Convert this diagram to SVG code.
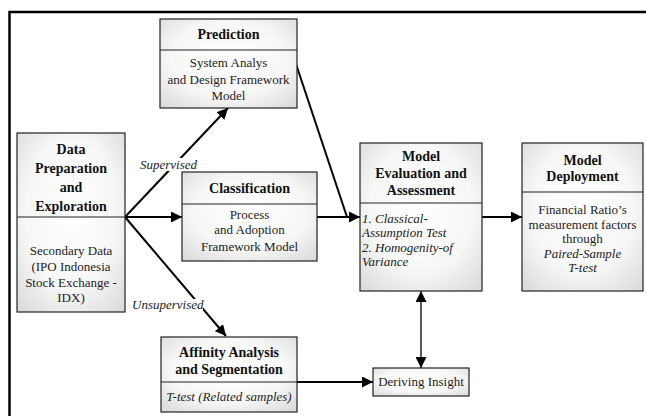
<svg xmlns="http://www.w3.org/2000/svg" width="646" height="416" viewBox="0 0 646 416">
<style>
.box{fill:url(#g);stroke:#222;stroke-width:1.2}
.div{stroke:#222;stroke-width:1.2}
.h{font-family:"Liberation Serif","Times New Roman",serif;font-weight:bold;font-size:14px;text-anchor:middle;fill:#111}
.b{font-family:"Liberation Serif","Times New Roman",serif;font-size:13px;text-anchor:middle;fill:#222}
.i{font-style:italic}
.l{text-anchor:start}
.c{stroke:#000;stroke-width:2;fill:none}
.bg{fill:#fff}
</style>
<defs>
<radialGradient id="g" cx="50%" cy="45%" r="70%">
<stop offset="0" stop-color="#ffffff"/>
<stop offset="0.6" stop-color="#f7f7f7"/>
<stop offset="1" stop-color="#dcdcdc"/>
</radialGradient>
<marker id="a" viewBox="0 0 10 10" refX="10" refY="5" markerWidth="11" markerHeight="11" markerUnits="userSpaceOnUse" orient="auto-start-reverse">
<path d="M0,0 L10,5 L0,10 z" fill="#000"/>
</marker>
</defs>
<rect x="0" y="0" width="646" height="416" fill="#fff"/>
<path d="M9.5,416 V12 H646" fill="none" stroke="#000" stroke-width="2.5"/>

<g id="connectors">
<path class="c" d="M125,217 L228,108" marker-end="url(#a)"/>
<path class="c" d="M125,217 L182,217" marker-end="url(#a)"/>
<path class="c" d="M125,217 L226,336" marker-end="url(#a)"/>
<path class="c" d="M296,64 L347,217"/>
<path class="c" d="M317,217 L360,217" marker-end="url(#a)"/>
<path class="c" d="M482,217 L522,217" marker-end="url(#a)"/>
<path class="c" d="M297,382 L373,382" marker-end="url(#a)"/>
<path d="M421,291 L421,368" fill="none" stroke="#333" stroke-width="1.6" marker-start="url(#a)" marker-end="url(#a)"/>
<rect class="bg" x="139" y="158" width="58" height="13"/>
<text class="b i" x="140" y="169" style="text-anchor:start">Supervised</text>
<rect class="bg" x="131" y="299" width="72" height="13"/>
<text class="b i" x="132" y="309" style="text-anchor:start">Unsupervised</text>
</g>

<g id="data-preparation">
<rect class="box" x="17" y="133" width="108" height="179"/>
<line class="div" x1="17" y1="217" x2="125" y2="217"/>
<text class="h" x="71" y="154">Data</text>
<text class="h" x="71" y="173">Preparation</text>
<text class="h" x="71" y="192">and</text>
<text class="h" x="71" y="211">Exploration</text>
<text class="b" x="71" y="255">Secondary Data</text>
<text class="b" x="71" y="271">(IPO Indonesia</text>
<text class="b" x="71" y="287">Stock Exchange -</text>
<text class="b" x="71" y="302">IDX)</text>
</g>

<g id="prediction">
<rect class="box" x="160" y="19" width="137" height="89"/>
<line class="div" x1="160" y1="50" x2="297" y2="50"/>
<text class="h" x="228.5" y="39">Prediction</text>
<text class="b" x="228.5" y="67">System Analys</text>
<text class="b" x="228.5" y="84">and Design Framework</text>
<text class="b" x="228.5" y="100">Model</text>
</g>

<g id="classification">
<rect class="box" x="182" y="172" width="135" height="89"/>
<line class="div" x1="182" y1="204" x2="317" y2="204"/>
<text class="h" x="249.5" y="193">Classification</text>
<text class="b" x="249.5" y="219">Process</text>
<text class="b" x="249.5" y="234">and Adoption</text>
<text class="b" x="249.5" y="251">Framework Model</text>
</g>

<g id="model-evaluation">
<rect class="box" x="360" y="143" width="122" height="148"/>
<line class="div" x1="360" y1="203" x2="482" y2="203"/>
<text class="h" x="421" y="161">Model</text>
<text class="h" x="421" y="178">Evaluation and</text>
<text class="h" x="421" y="195">Assessment</text>
<text class="b i l" x="362" y="223">1. Classical-</text>
<text class="b i l" x="362" y="237">Assumption Test</text>
<text class="b i l" x="362" y="252">2. Homogenity-of</text>
<text class="b i l" x="362" y="266">Variance</text>
</g>

<g id="model-deployment">
<rect class="box" x="522" y="143" width="121" height="148"/>
<line class="div" x1="522" y1="192" x2="643" y2="192"/>
<text class="h" x="582.5" y="165">Model</text>
<text class="h" x="582.5" y="181">Deployment</text>
<text class="b" x="582.5" y="214">Financial Ratio’s</text>
<text class="b" x="582.5" y="229">measurement factors</text>
<text class="b" x="582.5" y="243">through</text>
<text class="b i" x="582.5" y="258">Paired-Sample</text>
<text class="b i" x="582.5" y="272">T-test</text>
</g>

<g id="affinity-analysis">
<rect class="box" x="161" y="337" width="136" height="75"/>
<line class="div" x1="161" y1="382" x2="297" y2="382"/>
<text class="h" x="229" y="357">Affinity Analysis</text>
<text class="h" x="229" y="374">and Segmentation</text>
<text class="b i" x="229" y="401">T-test (Related samples)</text>
</g>

<g id="deriving-insight">
<rect class="box" x="373" y="368" width="96" height="28"/>
<text class="b" x="421" y="386">Deriving Insight</text>
</g>
</svg>
